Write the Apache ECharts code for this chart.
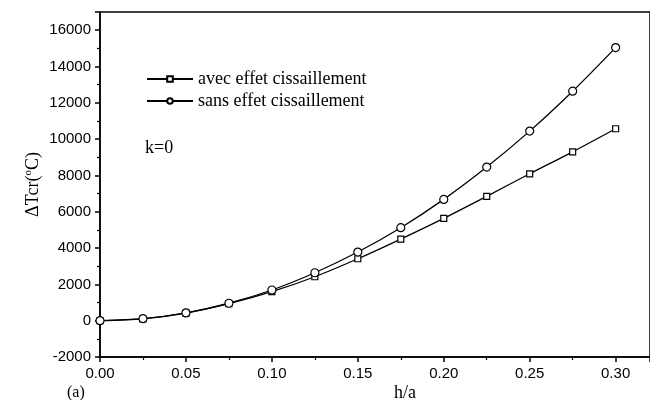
<!DOCTYPE html>
<html>
<head>
<meta charset="utf-8">
<script src="https://cdn.jsdelivr.net/npm/echarts@6/dist/echarts.min.js"></script>
<style>html,body{margin:0;padding:0;background:#fff;}#c{width:650px;height:400px;}</style>
</head>
<body>
<div id="c"></div>
<script>
var hValues = [0, 0.025, 0.05, 0.075, 0.1, 0.125, 0.15, 0.175, 0.2, 0.225, 0.25, 0.275, 0.3];
var avecValues = [0, 100, 420, 940, 1600, 2420, 3410, 4495, 5635, 6850, 8090, 9300, 10570];
var sansValues = [0, 110, 430, 960, 1690, 2640, 3780, 5120, 6680, 8460, 10440, 12640, 15040];
var seriesNames = ['avec effet cissaillement', 'sans effet cissaillement'];

function pairs(ys) { return hValues.map(function (x, i) { return [x, ys[i]]; }); }

var serif = 'Liberation Serif, Times New Roman, serif';
var sans = 'Liberation Sans, Arial, sans-serif';

var chart = echarts.init(document.getElementById('c'));
chart.setOption({
  animation: false,
  backgroundColor: '#fff',
  grid: { left: 100, top: 12, bottom: 43, right: -2, show: true, borderColor: '#000', borderWidth: 1.5, backgroundColor: 'transparent' },
  legend: {
    orient: 'vertical', left: 146, top: 70, padding: 0, itemGap: 4,
    itemWidth: 46, itemHeight: 7,
    textStyle: { fontFamily: serif, fontSize: 18, color: '#000' },
    data: seriesNames
  },
  xAxis: {
    type: 'value', min: 0, max: 0.32, interval: 0.05,
    axisLine: { onZero: false, lineStyle: { color: '#000', width: 1.5 } },
    axisTick: { show: true, inside: false, length: 5, lineStyle: { color: '#000', width: 1.5 } },
    minorTick: { show: true, splitNumber: 2, length: 3, lineStyle: { color: '#000', width: 1.2 } },
    splitLine: { show: false },
    axisLabel: { color: '#000', fontFamily: sans, fontSize: 15, margin: 9, showMaxLabel: false,
      formatter: function (v) { return v.toFixed(2); } }
  },
  yAxis: {
    type: 'value', min: -2000, max: 17000, interval: 2000,
    name: '{a|ΔTcr(}{s|o}{a|C)}', nameLocation: 'middle', nameRotate: 90, nameGap: 57,
    nameMoveOverlap: false,
    nameTextStyle: { rich: {
      a: { fontFamily: serif, fontSize: 18, color: '#000', lineHeight: 20 },
      s: { fontFamily: serif, fontSize: 11, color: '#000', verticalAlign: 'top', lineHeight: 20 }
    } },
    axisLine: { lineStyle: { color: '#000', width: 1.5 } },
    axisTick: { show: true, inside: false, length: 5, lineStyle: { color: '#000', width: 1.5 } },
    minorTick: { show: true, splitNumber: 2, length: 3, lineStyle: { color: '#000', width: 1.2 } },
    splitLine: { show: false },
    axisLabel: { color: '#000', fontFamily: sans, fontSize: 15, margin: 9, showMaxLabel: false,
      formatter: function (v) { return String(v); } }
  },
  graphic: [
    { type: 'text', left: 145, top: 139, style: { text: 'k=0', font: '18px ' + serif, fill: '#000' } },
    { type: 'text', left: 394, top: 384, style: { text: 'h/a', font: '18px ' + serif, fill: '#000' } },
    { type: 'text', left: 67, top: 385, style: { text: '(a)', font: '16px ' + serif, fill: '#000' } }
  ],
  series: [
    { name: seriesNames[0], type: 'line', smooth: 0.3, data: pairs(avecValues),
      symbol: 'rect', symbolSize: 6, showAllSymbol: true,
      lineStyle: { color: '#000', width: 1.3 },
      itemStyle: { color: '#fff', borderColor: '#000', borderWidth: 1.2 } },
    { name: seriesNames[1], type: 'line', smooth: 0.3, data: pairs(sansValues),
      symbol: 'circle', symbolSize: 8, showAllSymbol: true,
      lineStyle: { color: '#000', width: 1.3 },
      itemStyle: { color: '#fff', borderColor: '#000', borderWidth: 1.2 } }
  ]
});
</script>
</body>
</html>
